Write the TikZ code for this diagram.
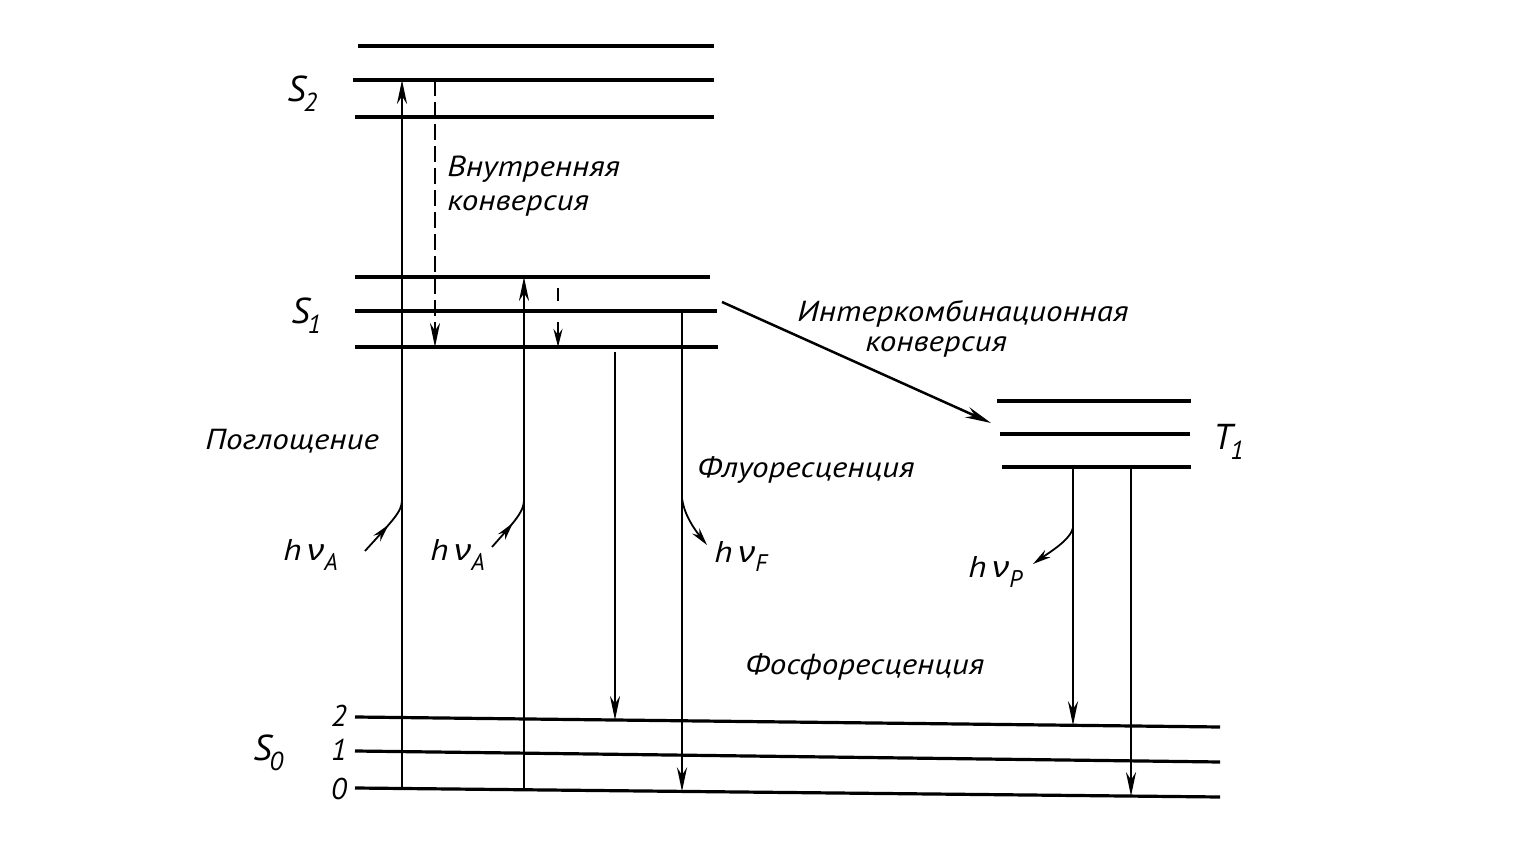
\documentclass[tikz,border=0pt]{standalone}
\usepackage{fontspec}
\setmainfont{PT Sans}
\newfontfamily\grk{Liberation Sans}
\usetikzlibrary{arrows.meta,decorations.markings}
\newcommand{\wide}[1]{\scalebox{1.14}[1]{#1}}
\newcommand{\nuu}{{\grk\itshape ν}}
\newcommand{\subx}[1]{\raisebox{-5pt}{\fontsize{12}{13}\selectfont #1}}
\tikzset{
  lvl/.style={line width=1.6pt},
  trans/.style={line width=1.25pt,-{Stealth[length=12pt,width=5pt]}},
  thin/.style={line width=1.25pt},
  photon/.style={line width=0.9pt,postaction={decorate},
    decoration={markings,mark=at position #1 with {\arrow{Stealth[length=9pt,width=4.5pt]}}}},
  photonend/.style={line width=0.9pt,-{Stealth[length=9pt,width=4.5pt]}},
  lbl/.style={font=\itshape\fontsize{14.5}{17}\selectfont,inner sep=0pt},
  sym/.style={font=\itshape\fontsize{15}{17}\selectfont,inner sep=0pt},
  big/.style={font=\itshape\fontsize{18}{20}\selectfont,inner sep=0pt},
}
\begin{document}
\begin{tikzpicture}[x=0.5pt,y=-0.5pt]
\useasboundingbox (0,0) rectangle (1520,849);
% ---- S2 levels
\coordinate (s2c-l) at (358,46);  \coordinate (s2c-r) at (714,46);
\coordinate (s2b-l) at (353,80);  \coordinate (s2b-r) at (714,80);
\coordinate (s2a-l) at (355,117); \coordinate (s2a-r) at (714,117);
% ---- S1 levels
\coordinate (s1c-l) at (355,277); \coordinate (s1c-r) at (710,277);
\coordinate (s1b-l) at (355,311); \coordinate (s1b-r) at (717,311);
\coordinate (s1a-l) at (355,347); \coordinate (s1a-r) at (718,347);
% ---- T1 levels
\coordinate (t1c-l) at (997,401);  \coordinate (t1c-r) at (1191,401);
\coordinate (t1b-l) at (1000,434); \coordinate (t1b-r) at (1190,434);
\coordinate (t1a-l) at (1002,467); \coordinate (t1a-r) at (1191,467);
% ---- S0 levels (slightly tilted)
\coordinate (s02-l) at (355,717); \coordinate (s02-r) at (1220,727);
\coordinate (s01-l) at (355,751); \coordinate (s01-r) at (1220,762);
\coordinate (s00-l) at (355,788); \coordinate (s00-r) at (1220,797);
\foreach \n in {s2c,s2b,s2a,s1c,s1b,s1a,t1c,t1b,t1a,s02,s01,s00}
  \draw[lvl] (\n-l) -- (\n-r);

% ---- transition end points
\coordinate (a1-s) at (402,788.5); \coordinate (a1-e) at (402,80);
\coordinate (ic-s) at (435,80);    \coordinate (ic-e) at (435,347);
\coordinate (a2-s) at (524,789.8); \coordinate (a2-e) at (524,277);
\coordinate (vr1-s) at (558,288);  \coordinate (vr1-e) at (558,301);
\coordinate (vr2-s) at (558,322);  \coordinate (vr2-e) at (558,347);
\coordinate (f2-s) at (615,352);   \coordinate (f2-e) at (615,720);
\coordinate (f0-s) at (682,311);   \coordinate (f0-e) at (682,791.4);
\coordinate (p2-s) at (1073,467);  \coordinate (p2-e) at (1073,725.3);
\coordinate (p0-s) at (1131,467);  \coordinate (p0-e) at (1131,796.1);
\coordinate (isc-s) at (722,302);  \coordinate (isc-e) at (991,423);

\draw[trans] (a1-s) -- (a1-e);
\draw[trans,dash pattern=on 8pt off 3pt] (ic-s) -- (ic-e);
\draw[trans] (a2-s) -- (a2-e);
\draw[thin] (vr1-s) -- (vr1-e);
\draw[trans,-{Stealth[length=9pt,width=4.5pt]}] (vr2-s) -- (vr2-e);
\draw[trans] (f2-s) -- (f2-e);
\draw[trans] (f0-s) -- (f0-e);
\draw[trans] (p2-s) -- (p2-e);
\draw[trans] (p0-s) -- (p0-e);
\draw[line width=1.25pt,-{Stealth[length=13pt,width=5.5pt]}] (isc-s) -- (isc-e);

% ---- photons
\coordinate (ph1-s) at (365,551); \coordinate (ph1-e) at (402,500);
\coordinate (ph2-s) at (492,547); \coordinate (ph2-e) at (524,500);
\coordinate (ph3-s) at (682,498); \coordinate (ph3-e) at (707,545);
\coordinate (ph4-s) at (1073,528); \coordinate (ph4-e) at (1033,564);
\draw[photon=0.55] (ph1-s) .. controls (392,521) and (402,512) .. (ph1-e);
\draw[photon=0.55] (ph2-s) .. controls (514,522) and (524,512) .. (ph2-e);
\draw[photonend] (ph3-s) .. controls (684,515) and (695,530) .. (ph3-e);
\draw[photonend] (ph4-s) .. controls (1070,540) and (1050,552) .. (ph4-e);

% ---- labels
\node[big,anchor=base west] (lS2) at (287,102) {S\kern-1pt\raisebox{-5pt}{\fontsize{13}{14}\selectfont 2}};
\node[big,anchor=base west] (lS1) at (291,324) {S\kern-1pt\raisebox{-5pt}{\fontsize{13}{14}\selectfont 1}};
\node[big,anchor=base west] (lS0) at (253,760) {S\kern-1pt\raisebox{-5pt}{\fontsize{13}{14}\selectfont 0}};
\node[big,anchor=base west] (lT1) at (1213,450) {T\kern-1pt\raisebox{-5pt}{\fontsize{13}{14}\selectfont 1}};
\node[sym,anchor=base east] (n2) at (347,726) {2};
\node[sym,anchor=base east] (n1) at (347,760) {1};
\node[sym,anchor=base east] (n0) at (347,799) {0};

\node[lbl,anchor=base west] (ic1) at (447,177) {\wide{Внутренняя}};
\node[lbl,anchor=base west] (ic2) at (447,211) {\wide{конверсия}};
\node[lbl,anchor=base west] (isc1) at (797,322) {\wide{Интеркомбинационная}};
\node[lbl,anchor=base west] (isc2) at (865,352) {\wide{конверсия}};
\node[lbl,anchor=base west] (abs) at (205,450) {\wide{Поглощение}};
\node[lbl,anchor=base west] (fl) at (697,478) {\wide{Флуоресценция}};
\node[lbl,anchor=base west] (ph) at (745,674) {\wide{Фосфоресценция}};

\node[sym,anchor=base west] (hA1) at (283,560) {\wide{h\,\nuu}\subx{A}};
\node[sym,anchor=base west] (hA2) at (430,560) {\wide{h\,\nuu}\subx{A}};
\node[sym,anchor=base west] (hF) at (714,562) {\wide{h\,\nuu}\subx{F}};
\node[sym,anchor=base west] (hP) at (968,578) {\wide{h\,\nuu}\subx{P}};
\end{tikzpicture}
\end{document}
